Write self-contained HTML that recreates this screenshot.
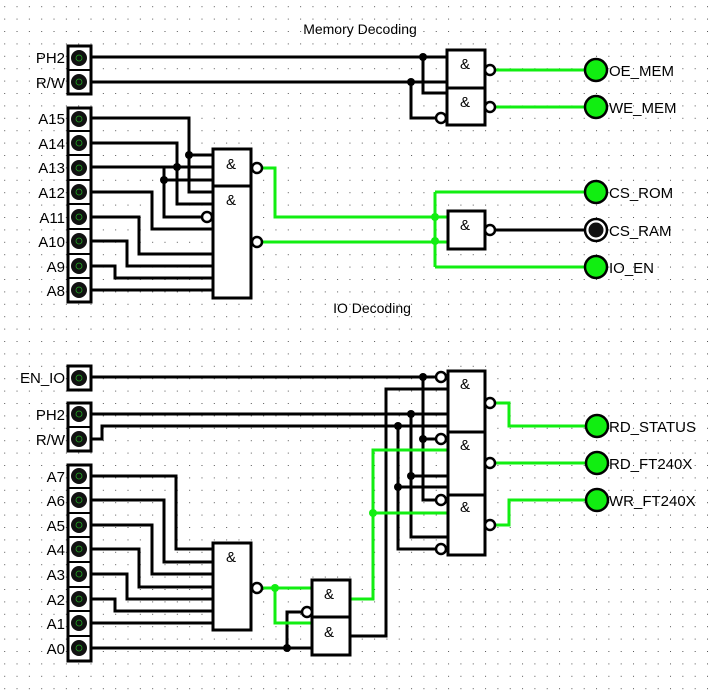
<!DOCTYPE html>
<html><head><meta charset="utf-8"><style>
html,body{margin:0;padding:0;background:#fff}
svg{display:block}
text{font-family:"Liberation Sans",sans-serif;font-size:15px;fill:#000}
</style></head><body>
<svg width="716" height="691" viewBox="0 0 716 691" xmlns="http://www.w3.org/2000/svg">
<defs>
<pattern id="g" x="4.2" y="6.2" width="12.33" height="12.4" patternUnits="userSpaceOnUse">
<rect x="0" y="0" width="1" height="1" fill="#555"/>
</pattern>
<g id="pin"><circle r="8" fill="#111"/><circle r="3" fill="none" stroke="#2a2" stroke-width="0.8"/></g>
<g id="led"><circle r="11" fill="#1e1" stroke="#000" stroke-width="2.5"/></g>
</defs>
<rect width="716" height="691" fill="url(#g)"/>

<text x="360" y="34" text-anchor="middle" style="font-size:14px">Memory Decoding</text>
<text x="372" y="313" text-anchor="middle" style="font-size:14px">IO Decoding</text>

<g stroke="#000" stroke-width="3" fill="none" stroke-linecap="square">
<path d="M91 57H447 M91 82H447 M423 57V93H447 M411 82V118H436"/>
<path d="M91 118H189V192H213 M189 155H213 M91 143H177V204H213 M177 167H213 M91 167H213 M164 167V217H200 M164 180H213
M91 192H152V229H213 M91 217H139V254H213 M91 241H127V266H213 M91 266H115V278H213 M91 290H213"/>
<path d="M490 230H586"/>
<path d="M91 377H436 M91 414H447 M91 439H102V426H447 M386 389H447 M386 389V636H350
M423 377V500 M423 439H436 M423 500H436 M411 414V537H447 M411 476H447 M398 426V549H436 M398 487H447"/>
<path d="M91 476H176V549H213 M91 500H164V562H213 M91 525H152V574H213 M91 549H139V587H213 M91 574H127V599H213 M91 599H115V611H213 M91 623H213
M91 648H312 M287 648V612H302"/>
</g>
<g stroke="#1e1" stroke-width="3" fill="none">
<path d="M495 70H586 M495 107H586"/>
<path d="M262 168H275V217H448 M262 242H448 M435 192V267 M435 192H586 M435 267H586"/>
<path d="M262 588H312 M275 588V623H312 M350 599H373V450H447 M373 513H447"/>
<path d="M495 403H509V426H586 M495 463H586 M495 525H509V500H586"/>
</g>
<g fill="#000">
<circle cx="423" cy="57" r="4"/><circle cx="411" cy="82" r="4"/>
<circle cx="189" cy="155" r="4"/><circle cx="177" cy="167" r="4"/><circle cx="164" cy="180" r="4"/>
<circle cx="423" cy="377" r="4"/><circle cx="411" cy="414" r="4"/><circle cx="398" cy="426" r="4"/>
<circle cx="423" cy="439" r="4"/><circle cx="411" cy="476" r="4"/><circle cx="398" cy="487" r="4"/>
<circle cx="287" cy="648" r="4"/>
</g>
<g fill="#1e1">
<circle cx="435" cy="217" r="4"/><circle cx="435" cy="241" r="4"/>
<circle cx="275" cy="588" r="4"/><circle cx="373" cy="513" r="4"/>
</g>

<g stroke="#000" stroke-width="3" fill="#fff">
<rect x="447" y="50" width="38" height="38"/><rect x="447" y="88" width="38" height="37"/>
<rect x="213" y="149" width="38" height="149"/>
<rect x="448" y="211" width="37" height="38"/>
<rect x="448" y="371" width="37" height="61"/><rect x="448" y="432" width="37" height="63"/><rect x="448" y="495" width="37" height="60"/>
<rect x="213" y="543" width="38" height="87"/>
<rect x="312" y="580" width="38" height="37"/><rect x="312" y="617" width="38" height="38"/>
</g>
<path d="M213 186H251" stroke="#000" stroke-width="3"/>
<g stroke="#000" stroke-width="2.5" fill="#fff">
<circle cx="490" cy="70" r="5"/><circle cx="490" cy="107" r="5"/><circle cx="441" cy="118" r="5"/>
<circle cx="257" cy="168" r="5"/><circle cx="257" cy="242" r="5"/><circle cx="207" cy="217" r="5"/>
<circle cx="490" cy="230" r="5"/>
<circle cx="441" cy="377" r="5"/><circle cx="441" cy="439" r="5"/><circle cx="441" cy="500" r="5"/><circle cx="441" cy="549" r="5"/>
<circle cx="490" cy="403" r="5"/><circle cx="490" cy="463" r="5"/><circle cx="490" cy="525" r="5"/>
<circle cx="257" cy="588" r="5"/><circle cx="307" cy="612" r="5"/>
</g>
<g style="font-size:13px">
<text x="460" y="69">&amp;</text><text x="460" y="107">&amp;</text>
<text x="226" y="169">&amp;</text><text x="226" y="205">&amp;</text>
<text x="460" y="230">&amp;</text>
<text x="460" y="389">&amp;</text><text x="460" y="450">&amp;</text><text x="460" y="512">&amp;</text>
<text x="226" y="562">&amp;</text>
<text x="324" y="599">&amp;</text><text x="324" y="637">&amp;</text>
</g>

<g stroke="#000" stroke-width="3" fill="#fff">
<rect x="68" y="46" width="23" height="48"/>
<rect x="68" y="108" width="23" height="194"/>
<rect x="68" y="366" width="23" height="24"/>
<rect x="68" y="403" width="23" height="48"/>
<rect x="68" y="465" width="23" height="196"/>
</g>
<path d="M68 70H91 M68 131H91 M68 155H91 M68 180H91 M68 204H91 M68 229H91 M68 254H91 M68 278H91 M68 427H91 M68 488H91 M68 513H91 M68 537H91 M68 562H91 M68 587H91 M68 611H91 M68 636H91" stroke="#000" stroke-width="2"/>
<g>
<use href="#pin" x="79" y="58"/><use href="#pin" x="79" y="82"/>
<use href="#pin" x="79" y="119"/><use href="#pin" x="79" y="143"/><use href="#pin" x="79" y="168"/><use href="#pin" x="79" y="192"/>
<use href="#pin" x="79" y="217"/><use href="#pin" x="79" y="241"/><use href="#pin" x="79" y="266"/><use href="#pin" x="79" y="290"/>
<use href="#pin" x="79" y="378"/><use href="#pin" x="79" y="414"/><use href="#pin" x="79" y="439"/>
<use href="#pin" x="79" y="476"/><use href="#pin" x="79" y="500"/><use href="#pin" x="79" y="525"/><use href="#pin" x="79" y="549"/>
<use href="#pin" x="79" y="574"/><use href="#pin" x="79" y="599"/><use href="#pin" x="79" y="623"/><use href="#pin" x="79" y="648"/>
</g>
<g text-anchor="end">
<text x="65" y="63">PH2</text><text x="65" y="88">R/W</text>
<text x="65" y="124">A15</text><text x="65" y="149">A14</text><text x="65" y="173">A13</text><text x="65" y="198">A12</text>
<text x="65" y="223">A11</text><text x="65" y="247">A10</text><text x="65" y="272">A9</text><text x="65" y="296">A8</text>
<text x="65" y="383">EN_IO</text><text x="65" y="420">PH2</text><text x="65" y="445">R/W</text>
<text x="65" y="482">A7</text><text x="65" y="506">A6</text><text x="65" y="531">A5</text><text x="65" y="555">A4</text>
<text x="65" y="580">A3</text><text x="65" y="605">A2</text><text x="65" y="629">A1</text><text x="65" y="654">A0</text>
</g>

<use href="#led" x="596" y="70"/><use href="#led" x="596" y="107"/><use href="#led" x="596" y="192"/>
<circle cx="596" cy="230" r="11" fill="#fff" stroke="#000" stroke-width="2.5"/><circle cx="596" cy="230" r="7.5" fill="#111"/>
<use href="#led" x="596" y="267"/>
<use href="#led" x="597" y="426"/><use href="#led" x="597" y="463"/><use href="#led" x="597" y="500"/>
<g>
<text x="609" y="76">OE_MEM</text><text x="609" y="113">WE_MEM</text><text x="609" y="198">CS_ROM</text>
<text x="609" y="236">CS_RAM</text><text x="609" y="273">IO_EN</text>
<text x="609" y="432">RD_STATUS</text><text x="609" y="469">RD_FT240X</text><text x="609" y="506">WR_FT240X</text>
</g>
</svg>
</body></html>
